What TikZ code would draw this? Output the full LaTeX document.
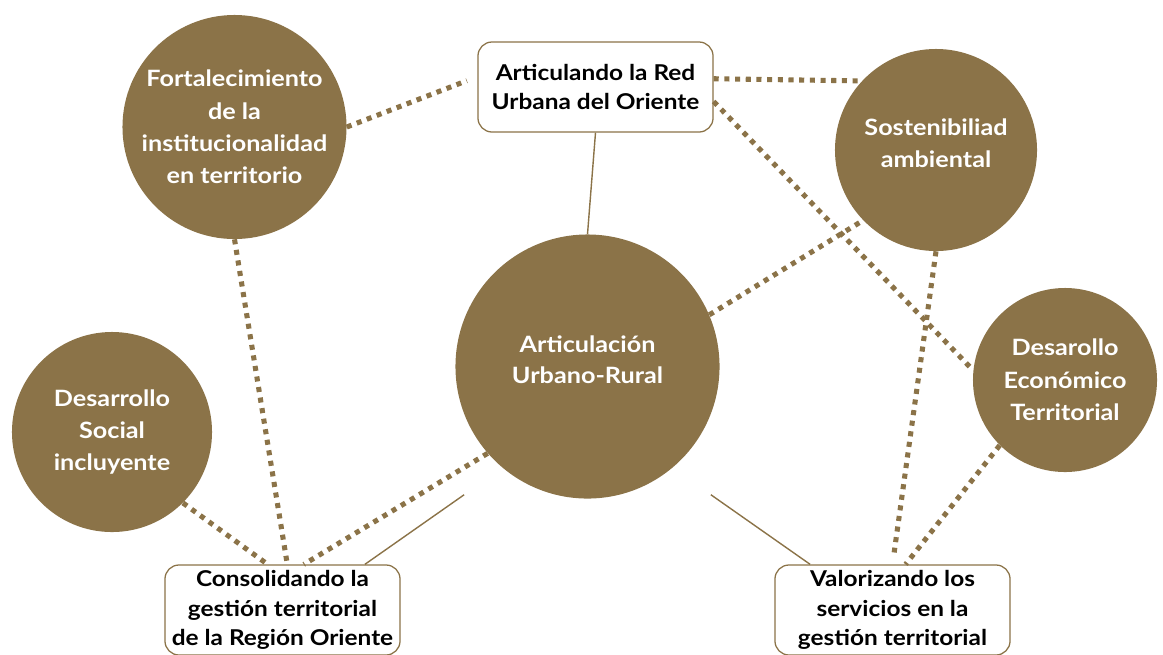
\documentclass[tikz,border=0pt]{standalone}
\usepackage{fontspec}
\setmainfont{Lato}[FakeStretch=1.12]
\definecolor{ocre}{RGB}{139,115,72}

\begin{document}
\begin{tikzpicture}[x=0.025cm,y=-0.025cm,
eje/.style = {circle, fill=ocre, text=white, inner sep=0pt, align=center,
  font=\bfseries\fontsize{16}{23}\selectfont},
caja/.style = {draw=ocre, line width=0.9pt, rounded corners=0.35cm, fill=white,
  minimum width=5.875cm, minimum height=2.25cm, inner sep=0pt, align=center,
  font=\bfseries\fontsize{15.5}{21}\selectfont},
punteado/.style = {draw=ocre, line width=3.6pt, dash pattern=on 3.6pt off 4pt},
fino/.style = {draw=ocre, line width=1pt}]
\useasboundingbox (0,0) rectangle (1163,654);

\node[eje, minimum size=5.6cm] (fort) at (234.5,127)
    {Fortalecimiento\\de la\\institucionalidad\\en territorio};
\node[eje, minimum size=5.05cm] (sost) at (936,150) {Sostenibiliad\\ambiental\\[-0.45cm]};
\node[eje, minimum size=6.6cm, font=\bfseries\fontsize{16}{22}\selectfont] (aur) at (587.5,366.5)
    {Articulación\\Urbano-Rural\\[-0.45cm]};
\node[eje, minimum size=4.6cm] (dec) at (1065,380) {Desarollo\\Económico\\Territorial};
\node[eje, minimum size=5cm] (dsoc) at (112,432) {Desarrollo\\Social\\incluyente};

\node[caja] (art) at (595.5,87) {Articulando la Red\\Urbana del Oriente};
\node[caja] (cons) at (282.5,610) {Consolidando la\\gestión territorial\\de la Región Oriente};
\node[caja] (val) at (892.5,610) {Valorizando los\\servicios en la\\gestión territorial};

\draw[punteado, shorten >=0.28cm] (fort.east) -- (art.175);
\draw[punteado] (art.4) -- (sost.137);
\draw[punteado] (art.-7) -- (dec.174);
\draw[fino] (art.south) -- (aur.north);
\draw[punteado] (fort.south) -- (cons.84);
\draw[punteado] (dsoc.-45) -- (cons.108);
\draw[punteado] (aur.221) -- (cons.65);
\draw[fino, shorten <=1.17cm] (aur.230) -- (cons.29);
\draw[fino, shorten <=1.17cm] (aur.-50) -- (val.151);
\draw[punteado] (aur.23) -- (sost.224);
\draw[punteado, shorten >=0.3cm] (sost.south) -- (val.90);
\draw[punteado] (dec.225) -- (val.74);
\end{tikzpicture}
\end{document}
